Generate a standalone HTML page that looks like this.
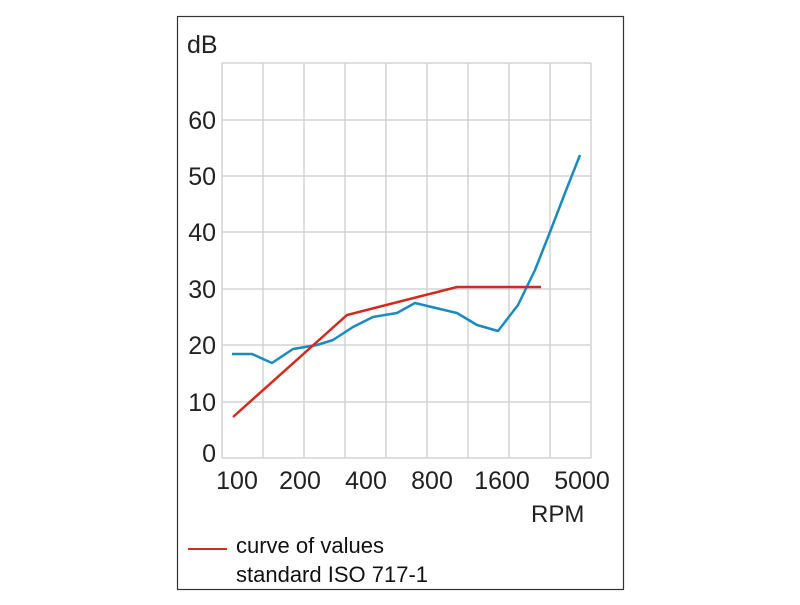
<!DOCTYPE html>
<html><head><meta charset="utf-8"><style>body{margin:0;background:#fff}</style></head><body>
<svg width="800" height="600" xmlns="http://www.w3.org/2000/svg" font-family="Liberation Sans, sans-serif">
<rect x="177.5" y="16.5" width="446" height="573" fill="#fff" stroke="#333" stroke-width="1.2"/>
<g stroke="#d4d4d4" stroke-width="1.5">
<line x1="222" y1="63" x2="222" y2="458"/><line x1="263" y1="63" x2="263" y2="458"/><line x1="304" y1="63" x2="304" y2="458"/><line x1="345" y1="63" x2="345" y2="458"/><line x1="386" y1="63" x2="386" y2="458"/><line x1="427" y1="63" x2="427" y2="458"/><line x1="468" y1="63" x2="468" y2="458"/><line x1="509" y1="63" x2="509" y2="458"/><line x1="550" y1="63" x2="550" y2="458"/><line x1="591" y1="63" x2="591" y2="458"/>
<line x1="222" y1="63" x2="591" y2="63"/><line x1="222" y1="120" x2="591" y2="120"/><line x1="222" y1="176" x2="591" y2="176"/><line x1="222" y1="232" x2="591" y2="232"/><line x1="222" y1="289" x2="591" y2="289"/><line x1="222" y1="345" x2="591" y2="345"/><line x1="222" y1="402" x2="591" y2="402"/><line x1="222" y1="458" x2="591" y2="458"/>
</g>
<g font-size="25" fill="#222" text-anchor="end">
<text x="216" y="129">60</text><text x="216" y="185">50</text><text x="216" y="241">40</text><text x="216" y="298">30</text><text x="216" y="354">20</text><text x="216" y="411">10</text><text x="216" y="462">0</text>
</g>
<text x="187" y="53" font-size="25" fill="#222">dB</text>
<g font-size="25" fill="#222" text-anchor="middle">
<text x="237" y="489">100</text><text x="300" y="489">200</text><text x="366" y="489">400</text><text x="432" y="489">800</text><text x="502" y="489">1600</text><text x="582" y="489">5000</text>
</g>
<text x="531" y="522" font-size="24" fill="#222">RPM</text>
<polyline fill="none" stroke="#1a8bbf" stroke-width="2.5" stroke-linejoin="round" points="232,354 252,354 272,363 293,349 317,345 333,340 353,327 373,317 397,313 415,303 440,309 457,313 477,325 498,331 518,305 535,270 550,232 565,193 580,155"/>
<polyline fill="none" stroke="#d42a1e" stroke-width="2.5" points="233,417 347,315 457,287 541,287"/>
<line x1="188" y1="549" x2="227" y2="549" stroke="#d42a1e" stroke-width="2"/>
<text x="236" y="553" font-size="22" fill="#111">curve of values</text>
<text x="236" y="582" font-size="22" fill="#111">standard ISO 717-1</text>
</svg>
</body></html>
